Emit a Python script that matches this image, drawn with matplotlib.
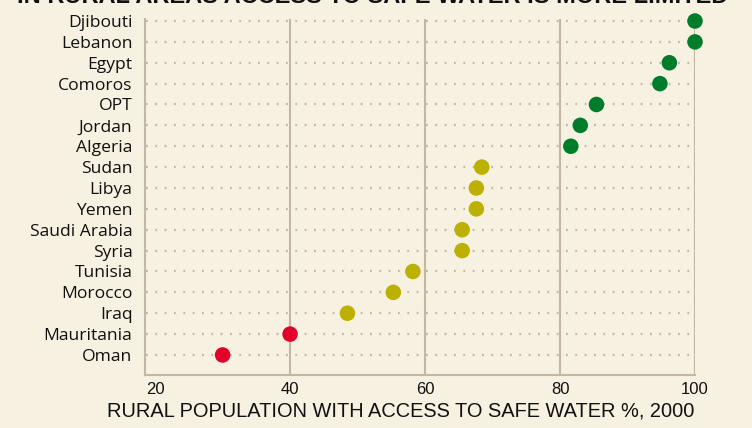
import matplotlib.pyplot as plt

countries = ['Djibouti', 'Lebanon', 'Egypt', 'Comoros', 'OPT', 'Jordan', 'Algeria',
             'Sudan', 'Libya', 'Yemen', 'Saudi Arabia', 'Syria', 'Tunisia',
             'Morocco', 'Iraq', 'Mauritania', 'Oman']
values = [100, 100, 96.2, 94.8, 85.4, 83, 81.6,
          68.4, 67.6, 67.6, 65.5, 65.5, 58.2,
          55.3, 48.5, 40, 30]
groups = ['high'] * 7 + ['mid'] * 8 + ['low'] * 2
xticks = [20, 40, 60, 80, 100]

colors = {'high': '#007d2b', 'mid': '#bcb000', 'low': '#e2002b'}
bg = '#f6f1e1'
line_col = '#c3b7a4'

fig = plt.figure(figsize=(7.52, 4.28), dpi=100, facecolor=bg)
ax = fig.add_axes([0.1928, 0.1238, 0.7314, 0.832])
ax.set_facecolor(bg)

rows = list(range(len(countries)))
ax.hlines(rows, 18.7, 99.6, colors=line_col, linestyles=(0, (0.8, 3.4)), linewidth=1.6, zorder=1)
for x in xticks[1:]:
    ax.axvline(x, color=line_col, linewidth=1.5, zorder=1)

ax.scatter(values, rows, s=125, c=[colors[g] for g in groups], zorder=3, linewidths=0, clip_on=False)

ax.set_xlim(18.5, 100)
ax.set_ylim(16.96, -0.1)
ax.set_yticks(rows)
ax.set_yticklabels(countries, fontsize=12.6, family='Open Sans', color='#111111')
ax.set_xticks(xticks)
ax.set_xticklabels([str(t) for t in xticks], fontsize=12, family='Liberation Sans', color='#111111')
ax.tick_params(axis='y', length=0, pad=9)
ax.tick_params(axis='x', length=0, pad=5)
for s in ['top', 'right']:
    ax.spines[s].set_visible(False)
for s in ['left', 'bottom']:
    ax.spines[s].set_color(line_col)
    ax.spines[s].set_linewidth(1.5)

ax.set_xlabel('RURAL POPULATION WITH ACCESS TO SAFE WATER %, 2000', fontsize=14.4,
              family='Liberation Sans', color='#111111')
ax.xaxis.set_label_coords(0.465, -0.075)

# title sits mostly above the top edge, as in the source image
fig.text(0.495, 0.992, 'IN RURAL AREAS ACCESS TO SAFE WATER IS MORE LIMITED', ha='center', va='baseline',
         fontsize=17, fontweight='bold', family='Liberation Sans', color='#111111')

fig.savefig('out.png', dpi=100, facecolor=bg)
